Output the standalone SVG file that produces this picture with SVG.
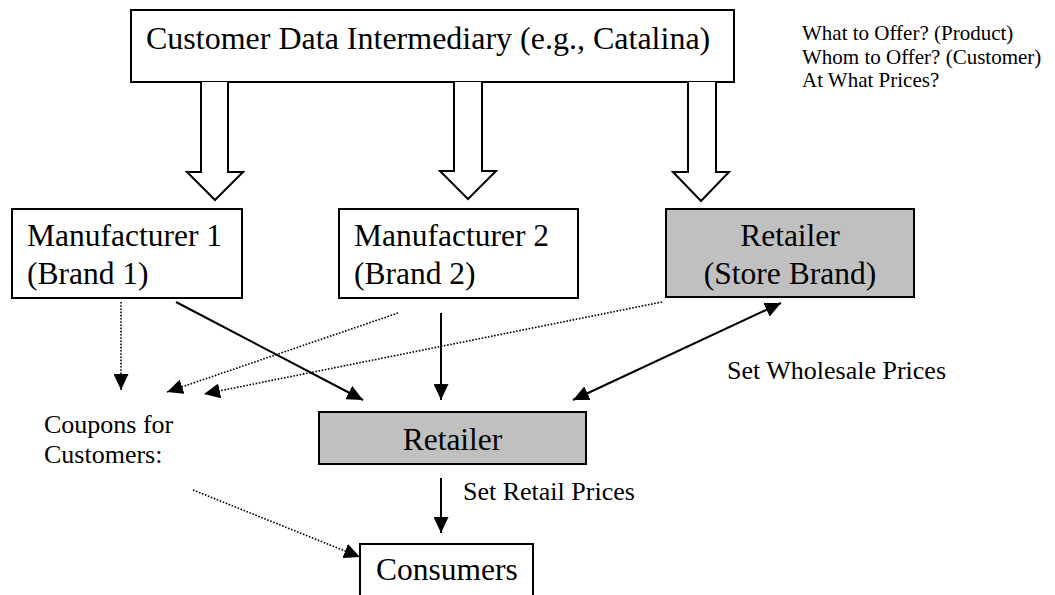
<svg xmlns="http://www.w3.org/2000/svg" width="1055" height="595" viewBox="0 0 1055 595">
  <style>
    text { font-family: "Liberation Serif", "Times New Roman", serif; fill: #000; }
    .node { font-size: 31.5px; }
    .note { font-size: 26px; }
    .side { font-size: 21px; }
    .box { fill: #fff; stroke: #000; stroke-width: 2; }
    .shaded { fill: #c0c0c0; stroke: #000; stroke-width: 2; }
    .block { fill: #fff; stroke: #000; stroke-width: 2; stroke-linejoin: miter; }
    .solid { fill: none; stroke: #000; stroke-width: 2; }
    .dotted { fill: none; stroke: #000; stroke-width: 1.6; stroke-dasharray: 1.6 1.6; }
  </style>
  <defs>
    <marker id="head" viewBox="0 0 16 15" refX="16" refY="7.5" markerWidth="16" markerHeight="15" markerUnits="userSpaceOnUse" orient="auto-start-reverse">
      <path d="M0,0 L16,7.5 L0,15 z" fill="#000"/>
    </marker>
  </defs>

  <!-- data provider at the top -->
  <g id="intermediary">
    <rect class="box" x="131" y="10" width="603" height="72"/>
    <text class="node" x="146" y="49" style="font-size:32px">Customer Data Intermediary (e.g., Catalina)</text>
  </g>

  <g id="questions">
    <text class="side" x="802" y="40">What to Offer? (Product)</text>
    <text class="side" x="802" y="63.5">Whom to Offer? (Customer)</text>
    <text class="side" x="802" y="87">At What Prices?</text>
  </g>

  <g id="manufacturer1">
    <rect class="box" x="12" y="209" width="230" height="89"/>
    <text class="node" x="27" y="246">Manufacturer 1</text>
    <text class="node" x="27" y="284">(Brand 1)</text>
  </g>

  <g id="manufacturer2">
    <rect class="box" x="339" y="209" width="239" height="89"/>
    <text class="node" x="354" y="246">Manufacturer 2</text>
    <text class="node" x="354" y="284">(Brand 2)</text>
  </g>

  <g id="store-retailer">
    <rect class="shaded" x="666" y="209" width="248" height="88"/>
    <text class="node" x="790" y="246" text-anchor="middle">Retailer</text>
    <text class="node" x="790" y="284" text-anchor="middle">(Store Brand)</text>
  </g>

  <g id="retailer">
    <rect class="shaded" x="319" y="412" width="267" height="52"/>
    <text class="node" x="452.5" y="450" text-anchor="middle">Retailer</text>
  </g>

  <g id="consumers">
    <rect class="box" x="360" y="544" width="173" height="60"/>
    <text class="node" x="376" y="580">Consumers</text>
  </g>

  <g id="coupons">
    <text class="note" x="44" y="433">Coupons for</text>
    <text class="note" x="44" y="463">Customers:</text>
  </g>

  <g id="price-labels">
    <text class="note" x="727" y="379">Set Wholesale Prices</text>
    <text class="note" x="463" y="500">Set Retail Prices</text>
  </g>

  <g id="connectors">
    <!-- hollow block arrows from the intermediary -->
    <path class="block" d="M201,82 V172 H187 L215,200 L243,172 H228 V82"/>
    <path class="block" d="M454,82 V171 H440 L468,199 L496,171 H482 V82"/>
    <path class="block" d="M688,82 V172 H673 L701,201 L729,172 H716 V82"/>

    <!-- product flow -->
    <line class="solid" x1="176" y1="302" x2="363" y2="400" marker-end="url(#head)"/>
    <line class="solid" x1="441" y1="313" x2="441" y2="400" marker-end="url(#head)"/>
    <line class="solid" x1="573" y1="400" x2="781" y2="303" marker-start="url(#head)" marker-end="url(#head)"/>
    <line class="solid" x1="441" y1="478" x2="441" y2="533" marker-end="url(#head)"/>

    <!-- coupon flow -->
    <line class="dotted" x1="121" y1="302" x2="121" y2="390" marker-end="url(#head)"/>
    <line class="dotted" x1="398" y1="313" x2="167" y2="392" marker-end="url(#head)"/>
    <line class="dotted" x1="662" y1="302" x2="204" y2="394" marker-end="url(#head)"/>
    <line class="dotted" x1="193" y1="490" x2="360" y2="557" marker-end="url(#head)"/>
  </g>
</svg>
